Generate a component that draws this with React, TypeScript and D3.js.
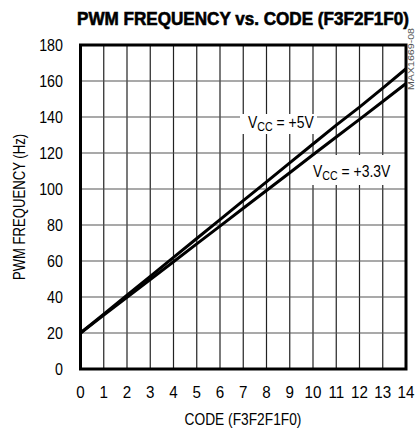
import React from "react";
import * as d3 from "d3";

const codes = [0, 1, 2, 3, 4, 5, 6, 7, 8, 9, 10, 11, 12, 13, 14];
const freq5V = [20, 30.5, 41, 51.5, 62, 72.5, 83, 93.5, 104, 114.5, 125, 135.5, 145.5, 156, 166.8];
const freq33V = [20, 29.9, 39.8, 49.7, 59.6, 69.5, 79.4, 89.3, 99.2, 109, 119, 128.9, 138.7, 148.6, 158.6];
const yTicks = [0, 20, 40, 60, 80, 100, 120, 140, 160, 180];
const xTicks = [0, 1, 2, 3, 4, 5, 6, 7, 8, 9, 10, 11, 12, 13, 14];

const FONT = "'Liberation Sans', Arial, sans-serif";

function T(props: {
  x: number;
  y: number;
  sx?: number;
  rotate?: number;
  anchor?: string;
  size?: number;
  weight?: string;
  fill?: string;
  dy?: string;
  children: React.ReactNode;
}) {
  const { x, y, sx = 0.85, rotate = 0, anchor = "start", size = 17, weight = "normal", fill = "#000", dy } = props;
  return (
    <text
      transform={`translate(${x},${y}) rotate(${rotate}) scale(${sx},1)`}
      textAnchor={anchor}
      fontFamily={FONT}
      fontSize={size}
      fontWeight={weight}
      fill={fill}
      dy={dy}
    >
      {props.children}
    </text>
  );
}

export default function App() {
  const W = 416, H = 430;
  const left = 80.5, right = 406, top = 45, bottom = 369;
  const x = d3.scaleLinear().domain([0, 14]).range([left, right]);
  const y = d3.scaleLinear().domain([0, 180]).range([bottom, top]);
  const line = d3.line<number>().x((_, i) => x(codes[i])).y((d) => y(d));

  return (
    <svg width={W} height={H} style={{ position: "absolute", left: 0, top: 0, background: "#fff" }}>
      <rect x={0} y={0} width={W} height={H} fill="#fff" />
      <text x={243} y={24.5} textAnchor="middle" fontFamily={FONT} fontWeight="bold" fontSize={17.5} textLength={332} lengthAdjust="spacingAndGlyphs" stroke="#000" strokeWidth={0.6}>
        PWM FREQUENCY vs. CODE (F3F2F1F0)
      </text>
      {xTicks.slice(1, -1).map((t) => (
        <line key={"vx" + t} x1={x(t)} x2={x(t)} y1={top} y2={bottom} stroke="#222" strokeWidth={1.2} />
      ))}
      {yTicks.slice(1, -1).map((t) => (
        <line key={"hy" + t} x1={left} x2={right} y1={y(t)} y2={y(t)} stroke="#555" strokeWidth={1.2} />
      ))}
      <rect x={240} y={114} width={77} height={20} fill="#fff" />
      <rect x={310} y={155} width={93} height={30} fill="#fff" />
      <path d={line(freq5V) || ""} fill="none" stroke="#000" strokeWidth={3} />
      <path d={line(freq33V) || ""} fill="none" stroke="#000" strokeWidth={3} />
      <rect x={left} y={top} width={right - left} height={bottom - top} fill="none" stroke="#000" strokeWidth={3} />
      {yTicks.map((t) => (
        <T key={"yl" + t} x={63} y={y(t)} dy="0.36em" anchor="end" size={17} sx={0.84}>
          {t}
        </T>
      ))}
      {xTicks.map((t) => (
        <T key={"xl" + t} x={x(t)} y={398} anchor="middle" size={16.5} sx={0.92}>
          {t}
        </T>
      ))}
      <T x={243} y={425} anchor="middle" size={16} sx={0.86}>
        CODE (F3F2F1F0)
      </T>
      <T x={25} y={207} rotate={-90} anchor="middle" size={16} sx={0.82}>
        PWM FREQUENCY (Hz)
      </T>
      <T x={248} y={128} size={17} sx={0.82}>
        V<tspan fontSize={13} dy={3}>CC</tspan><tspan dy={-3}> = +5V</tspan>
      </T>
      <T x={313} y={177} size={17} sx={0.82}>
        V<tspan fontSize={13} dy={3}>CC</tspan><tspan dy={-3}> = +3.3V</tspan>
      </T>
      <text transform="translate(414,59) rotate(-90)" textAnchor="middle" fontFamily={FONT} fontSize={9} fill="#555" textLength={62} lengthAdjust="spacingAndGlyphs">
        MAX1669-08
      </text>
    </svg>
  );
}
